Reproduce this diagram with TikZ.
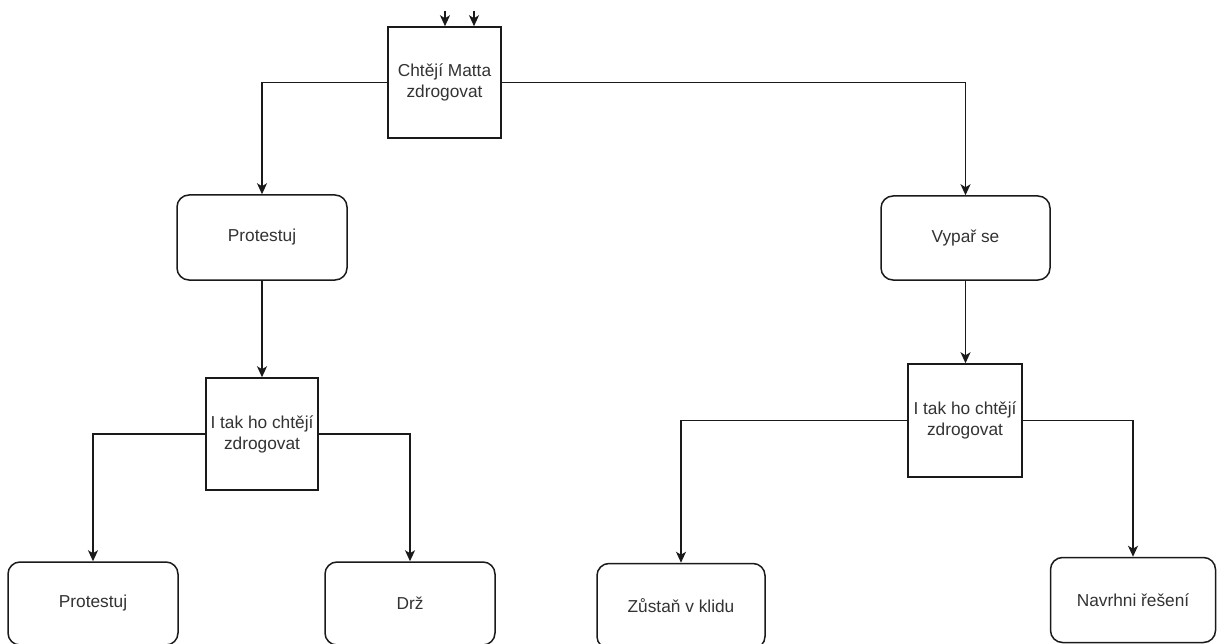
\documentclass[tikz,border=0pt]{standalone}
\usepackage{fontspec}
\setmainfont{Liberation Sans}
\usetikzlibrary{arrows.meta}
\definecolor{ink}{HTML}{1A1A1A}
\definecolor{txt}{HTML}{333333}
\begin{document}
\begin{tikzpicture}[x=1pt,y=-1pt,
  every node/.style={font=\fontsize{17.3}{21}\selectfont, text=txt, align=center, inner sep=0pt},
  square/.style={draw=ink, line width=1.5pt, fill=white, rectangle},
  roundbox/.style={draw=ink, line width=1.5pt, fill=white, rectangle, rounded corners=12pt},
  link/.style={draw=ink, line width=1.5pt, -{Stealth[length=11pt,width=10pt,inset=3pt]}}]
\useasboundingbox (0,0) rectangle (1217,644);

% decision squares
\node[square, minimum width=113pt, minimum height=111pt] (top) at (444.5,82.5) {Chtějí Matta\\zdrogovat};
\node[square, minimum width=112pt, minimum height=112pt] (q1) at (262,434) {I tak ho chtějí\\zdrogovat};
\node[square, minimum width=114pt, minimum height=113pt] (q2) at (965,420.5) {I tak ho chtějí\\zdrogovat};

% actions
\node[roundbox, minimum width=170pt, minimum height=85pt] (p1) at (262,237.5) {Protestuj};
\node[roundbox, minimum width=169pt, minimum height=84pt] (v1) at (965.5,238) {Vypař se};
\node[roundbox, minimum width=170pt, minimum height=83pt] (b1) at (93,603.5) {Protestuj};
\node[roundbox, minimum width=170pt, minimum height=83pt] (b2) at (410,603.5) {Drž};
\node[roundbox, minimum width=168pt, minimum height=85pt] (b3) at (681,606) {Zůstaň v klidu};
\node[roundbox, minimum width=165pt, minimum height=85pt] (b4) at (1133,600) {Navrhni řešení};

% incoming arrows at the top
\coordinate (in1) at (445,11);
\coordinate (in2) at (474,11);
\draw[link] (in1) -- (in1 |- top.north);
\draw[link] (in2) -- (in2 |- top.north);

% branches
\draw[link] (top.west) -| (p1.north);
\draw[link] (top.east) -| (v1.north);
\draw[link] (p1.south) -- (q1.north);
\draw[link] (v1.south) -- (v1.south |- q2.north);
\draw[link] (q1.west) -| (b1.north);
\draw[link] (q1.east) -| (b2.north);
\draw[link] (q2.west) -| (b3.north);
\draw[link] (q2.east) -| (b4.north);
\end{tikzpicture}
\end{document}
